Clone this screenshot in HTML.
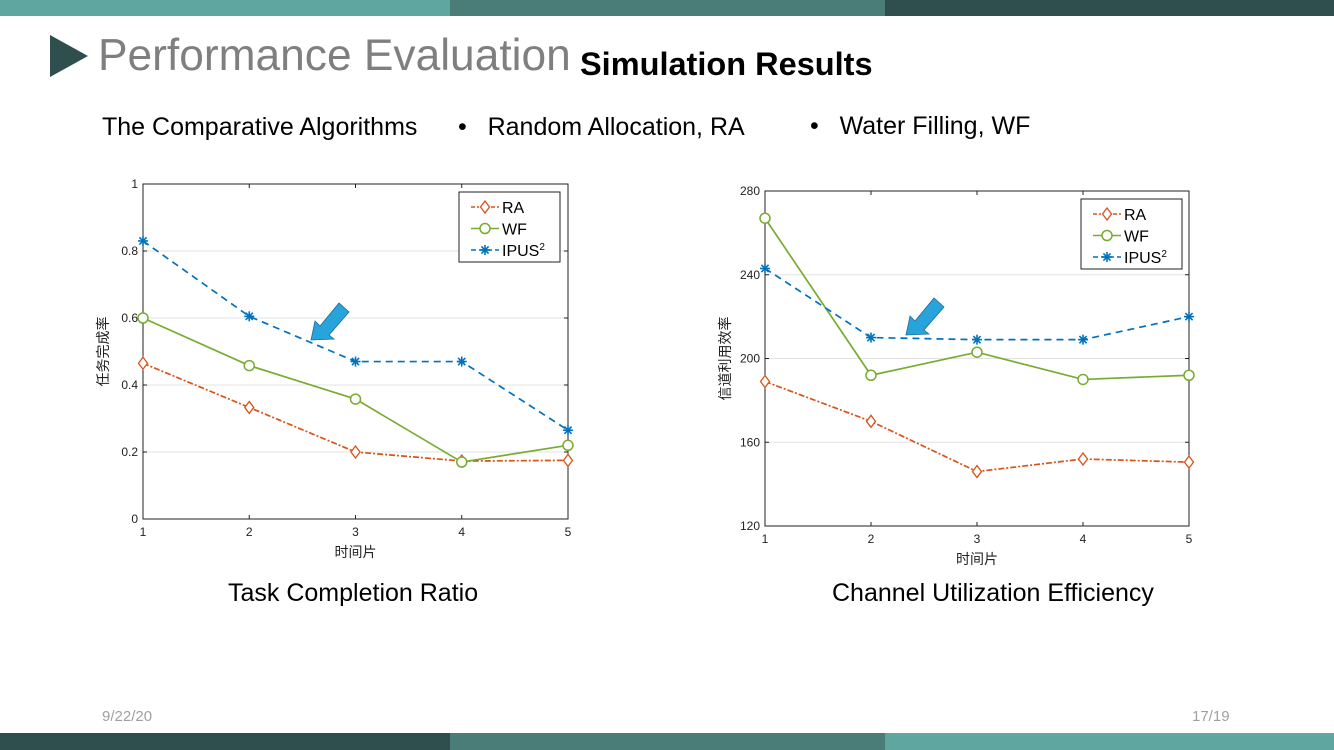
<!DOCTYPE html>
<html><head><meta charset="utf-8"><style>
body{margin:0;width:1334px;height:750px;overflow:hidden;background:#fff;font-family:"Liberation Sans","Noto Sans CJK SC",sans-serif;position:relative}
.a{position:absolute;white-space:nowrap}
</style></head><body>
<div class="a" style="left:0;top:0;width:450px;height:16px;background:#5fa6a0"></div>
<div class="a" style="left:450px;top:0;width:435px;height:16px;background:#4a7d78"></div>
<div class="a" style="left:885px;top:0;width:449px;height:16px;background:#2f4e4e"></div>
<div class="a" style="left:0;top:733px;width:450px;height:17px;background:#2f4e4e"></div>
<div class="a" style="left:450px;top:733px;width:435px;height:17px;background:#4a7d78"></div>
<div class="a" style="left:885px;top:733px;width:449px;height:17px;background:#5fa6a0"></div>
<svg class="a" style="left:50px;top:35px" width="40" height="43"><polygon points="0,0 38,21 0,42" fill="#2f4e4e"/></svg>
<div class="a" style="left:98px;top:31px;font-size:44.3px;color:#7f7f7f">Performance Evaluation</div>
<div class="a" style="left:580px;top:46px;font-size:32.5px;font-weight:bold;color:#000">Simulation Results</div>
<div class="a" style="left:102px;top:113px;font-size:25px">The Comparative Algorithms</div>
<div class="a" style="left:458px;top:113px;font-size:25px">•&nbsp;&nbsp; Random Allocation, RA</div>
<div class="a" style="left:810px;top:112px;font-size:25px">•&nbsp;&nbsp; Water Filling, WF</div>
<div class="a" style="left:228px;top:579px;font-size:25px">Task Completion Ratio</div>
<div class="a" style="left:832px;top:579px;font-size:25px">Channel Utilization Efficiency</div>
<div class="a" style="left:102px;top:708px;font-size:15px;color:#a0a0a0">9/22/20</div>
<div class="a" style="left:1192px;top:708px;font-size:15px;color:#a0a0a0">17/19</div>
<svg class="a" id="svg" style="left:0;top:0" width="1334" height="750"></svg>
<script>
const categories=[1,2,3,4,5];
const leftTicks=[0,0.2,0.4,0.6,0.8,1];
const leftTickLabels=["0","0.2","0.4","0.6","0.8","1"];
const leftRA=[0.465,0.333,0.2,0.173,0.175];
const leftWF=[0.6,0.458,0.358,0.17,0.22];
const leftIPUS=[0.83,0.605,0.47,0.47,0.265];
const rightTicks=[120,160,200,240,280];
const rightTickLabels=["120","160","200","240","280"];
const rightRA=[189,170,146,152,150.5];
const rightWF=[267,192,203,190,192];
const rightIPUS=[243,210,209,209,220];
const NS="http://www.w3.org/2000/svg";
const svg=document.getElementById('svg');
function mk(t,a,p){const e=document.createElementNS(NS,t);for(const k in a)e.setAttribute(k,a[k]);(p||svg).appendChild(e);return e;}
function chart(cfg){
 const g=mk('g',{});
 
 
 const X=v=>cfg.x0+(v-1)/(4)*(cfg.x1-cfg.x0);
 const Y=v=>cfg.y1-(v-cfg.ymin)/(cfg.ymax-cfg.ymin)*(cfg.y1-cfg.y0);
 cfg.ticks.forEach((t,i)=>{
  const y=Y(t);
  if(i>0&&i<cfg.ticks.length-1){const gl=mk('line',{x1:cfg.x0,x2:cfg.x1,y1:y,y2:y,stroke:'#e3e3e3','stroke-width':1},g);
   
   }
  const tl=mk('text',{x:cfg.x0-5,y:y+4,'text-anchor':'end','font-size':12,fill:'#222'},g);tl.textContent=cfg.labels[i];
  
  
  mk('line',{x1:cfg.x0,x2:cfg.x0+4,y1:y,y2:y,stroke:'#222'},g);mk('line',{x1:cfg.x1,x2:cfg.x1-4,y1:y,y2:y,stroke:'#222'},g);
 });
 categories.forEach(c=>{const x=X(c);
  const tl=mk('text',{x:x,y:cfg.y1+17,'text-anchor':'middle','font-size':12,fill:'#222'},g);tl.textContent=c;
  
  
  mk('line',{x1:x,x2:x,y1:cfg.y1,y2:cfg.y1-4,stroke:'#222'},g);mk('line',{x1:x,x2:x,y1:cfg.y0,y2:cfg.y0+4,stroke:'#222'},g);});
 const fr=mk('rect',{x:cfg.x0,y:cfg.y0,width:cfg.x1-cfg.x0,height:cfg.y1-cfg.y0,fill:'none',stroke:'#222','stroke-width':1},g);
 
 
 const xt=mk('text',{x:(cfg.x0+cfg.x1)/2,y:cfg.y1+38,'text-anchor':'middle','font-size':14,fill:'#222'},g);xt.textContent='时间片';
 
 
 const yt=mk('text',{x:0,y:0,'text-anchor':'middle','font-size':14,fill:'#222',transform:`translate(${cfg.x0-35},${(cfg.y0+cfg.y1)/2}) rotate(-90)`},g);yt.textContent=cfg.ytitle;
 
 
 const series=[{d:cfg.ra,c:'#d95319',dash:'6,2,2,2',m:'d',n:'RA'},{d:cfg.wf,c:'#77ac30',dash:'',m:'o',n:'WF'},{d:cfg.ipus,c:'#0072bd',dash:'7,5',m:'*',n:'IPUS'}];
 function marker(m,x,y,c,p){
  if(m==='d')return mk('polygon',{points:`${x},${y-6} ${x+4.5},${y} ${x},${y+6} ${x-4.5},${y}`,fill:'#fff',stroke:c,'stroke-width':1.3},p);
  if(m==='o')return mk('circle',{cx:x,cy:y,r:5,fill:'#fff',stroke:c,'stroke-width':1.5},p);
  const s=mk('g',{stroke:c,'stroke-width':1.6},p);
  [[0,-5,0,5],[-5,0,5,0],[-3.6,-3.6,3.6,3.6],[-3.6,3.6,3.6,-3.6]].forEach(l=>mk('line',{x1:x+l[0],y1:y+l[1],x2:x+l[2],y2:y+l[3]},s));return s;}
 series.forEach(s=>{
  const pl=mk('polyline',{points:s.d.map((v,i)=>X(categories[i])+','+Y(v)).join(' '),fill:'none',stroke:s.c,'stroke-width':1.7,'stroke-dasharray':s.dash},g);
  
  
  s.d.forEach((v,i)=>{const mm=marker(s.m,X(categories[i]),Y(v),s.c,g);
   
   });
 });
 const lg=mk('g',{},g);
 
 
 mk('rect',{x:cfg.lx,y:cfg.ly,width:101,height:70,fill:'#fff',stroke:'#222'},lg);
 series.forEach((s,i)=>{const y=cfg.ly+15+i*21.5;
  mk('line',{x1:cfg.lx+12,x2:cfg.lx+40,y1:y,y2:y,stroke:s.c,'stroke-width':1.5,'stroke-dasharray':s.m==='o'?'':(s.m==='d'?'4,2,2,2':'5,3')},lg);
  marker(s.m,cfg.lx+26,y,s.c,lg);
  const t=mk('text',{x:cfg.lx+43,y:y+6,'font-size':16,fill:'#000'},lg);
  
  
  if(s.n==='IPUS'){t.textContent='IPUS';const sup=mk('tspan',{dy:-6,'font-size':10},t);sup.textContent='2';}else t.textContent=s.n;
 });
 const ax=cfg.arx,ay=cfg.ary;
 const ar=mk('polygon',{points:`${ax},${ay} ${ax+4},${ay-19} ${ax+9},${ay-14} ${ax+28},${ay-37} ${ax+38},${ay-28} ${ax+18},${ay-5} ${ax+23},${ay-1}`,fill:'#29a3dc',stroke:'#1b6f9a','stroke-width':0.8},g);
 
 
}
chart({name:'task-completion-chart',x0:143,x1:568,y0:184,y1:519,ymin:0,ymax:1,ticks:leftTicks,labels:leftTickLabels,ra:leftRA,wf:leftWF,ipus:leftIPUS,ytitle:'任务完成率',lx:459,ly:192,arx:311,ary:340});
chart({name:'channel-efficiency-chart',x0:765,x1:1189,y0:191,y1:526,ymin:120,ymax:280,ticks:rightTicks,labels:rightTickLabels,ra:rightRA,wf:rightWF,ipus:rightIPUS,ytitle:'信道利用效率',lx:1081,ly:199,arx:906,ary:335});
</script>
</body></html>
